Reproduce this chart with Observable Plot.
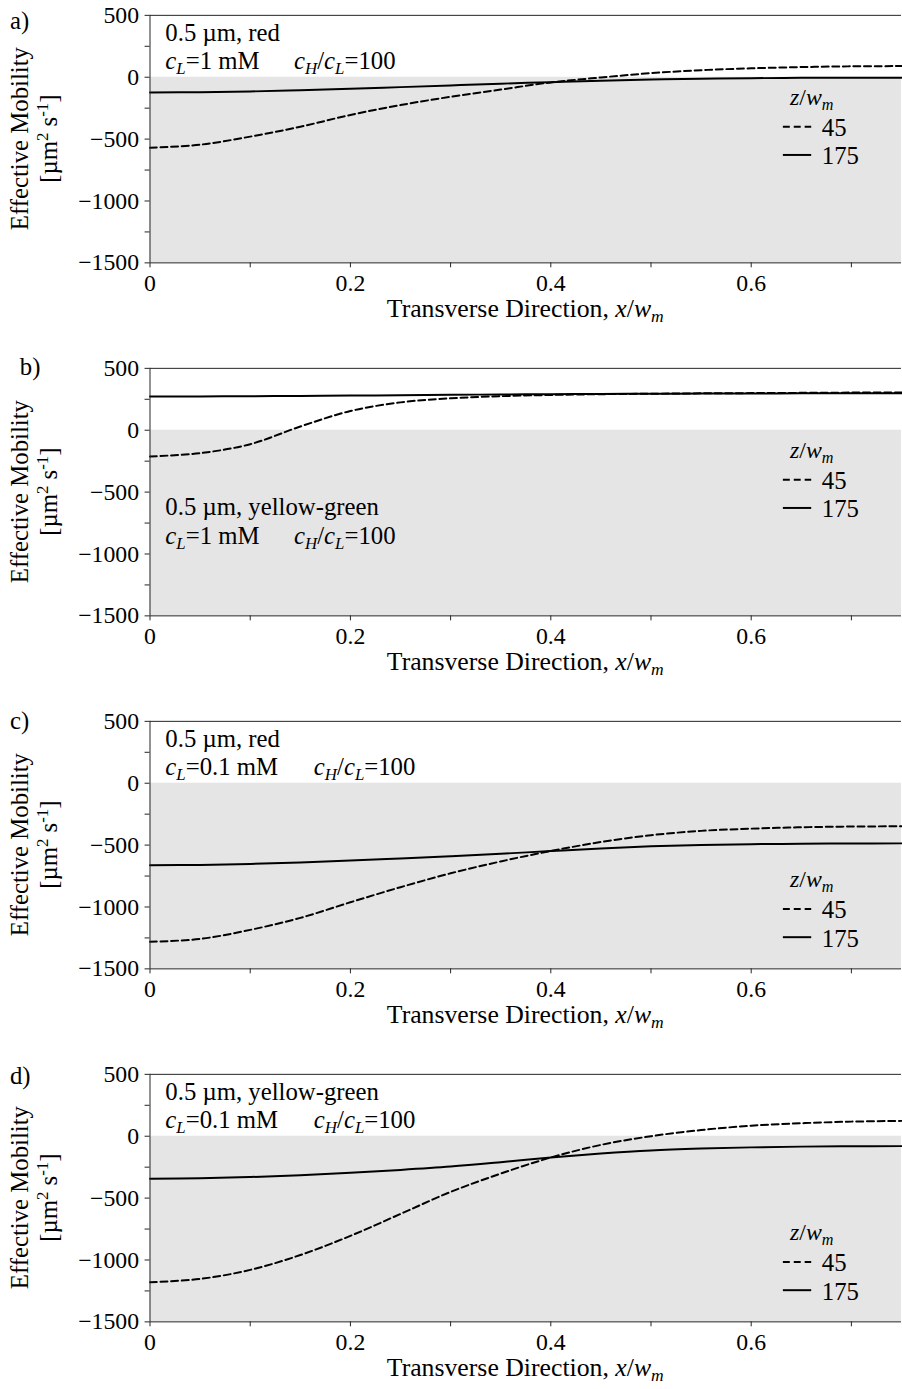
<!DOCTYPE html>
<html><head><meta charset="utf-8">
<script src="https://cdn.jsdelivr.net/npm/d3@7"></script>
<script src="https://cdn.jsdelivr.net/npm/@observablehq/plot@0.6"></script>
<style>
html,body{margin:0;padding:0;background:#fff;overflow:hidden;}
.panel{position:relative;width:902px;height:353px;overflow:hidden;}
.panel svg{display:block;}
</style></head><body><div id="root"></div>
<script>
// ---------- data ----------
const xGrid = [0, 0.05, 0.1, 0.15, 0.2, 0.25, 0.3, 0.35, 0.4, 0.45, 0.5, 0.55, 0.6, 0.65, 0.7, 0.75];
const seriesNames = ["45", "175"];            // z/w_m
const panelLetters = ["a)", "b)", "c)", "d)"];
const particles = ["0.5 µm, red", "0.5 µm, yellow-green", "0.5 µm, red", "0.5 µm, yellow-green"];
const cLvalues = ["1", "1", "0.1", "0.1"];
const ratioValue = "100";

const a45  = [-570, -545, -480, -400, -305, -225, -158, -100, -42, -2, 33, 57, 72, 82, 88, 90];
const a175 = [-123, -121, -115, -105, -93, -80, -66, -52, -40, -28, -19, -12, -8, -5, -4, -4];
const b45  = [-212, -185, -113, 30, 155, 225, 258, 275, 285, 291, 295, 298, 300, 302, 304, 305];
const b175 = [272, 273, 275, 277, 280, 283, 286, 289, 291, 293, 295, 296, 297, 298, 298, 298];
const c45  = [-1281, -1258, -1185, -1088, -962, -840, -728, -632, -548, -475, -420, -385, -367, -356, -350, -348];
const c175 = [-662, -660, -652, -640, -625, -608, -590, -570, -548, -527, -510, -500, -493, -489, -487, -486];
const d45  = [-1180, -1153, -1080, -960, -805, -628, -450, -302, -172, -70, 0, 50, 85, 105, 118, 124];
const d175 = [-343, -340, -330, -315, -295, -272, -245, -210, -172, -140, -115, -100, -90, -84, -81, -80];

const dashedSeries = [a45, b45, c45, d45];
const solidSeries  = [a175, b175, c175, d175];

const yMajor = [-1500, -1000, -500, 0, 500];
const yMinor = [-1250, -750, -250, 250];
const xMajor = [0, 0.2, 0.4, 0.6];
const xMinor = [0.1, 0.3, 0.5, 0.7];
const xDomain = [0, 0.75];
const yDomain = [-1500, 500];

// ---------- layout (pixels, relative to each panel) ----------
const FONT = "'Liberation Serif', 'Times New Roman', serif";
const FS = 25;
const TFS = 24;
const DASH = "7,3.7";
const layout = [
  {lx: 10, ly: 29, t1: 41.5, t2: 70, x2: 297, leg: 0},
  {lx: 20, ly: 22, t1: 164, t2: 193, x2: 297, leg: 0},
  {lx: 10, ly: 23, t1: 41, t2: 70, x2: 317, leg: 77},
  {lx: 10, ly: 25, t1: 41, t2: 70, x2: 317, leg: 77}
];

function rich(g, x, y, parts, anchor, size) {
  const fs = size || FS;
  const t = g.append("text").attr("x", x).attr("y", y)
    .attr("font-family", FONT).attr("font-size", fs).attr("fill", "#000")
    .attr("text-anchor", anchor || "start");
  let shift = 0;
  for (const [s, st] of parts) {
    const sp = t.append("tspan").text(s);
    let target = 0;
    if (st.includes("sub")) target = 5;
    if (st.includes("sup")) target = -10;
    if (target !== shift) { sp.attr("dy", target - shift); shift = target; }
    if (st.includes("i")) sp.attr("font-style", "italic");
    if (st.includes("sub") || st.includes("sup")) sp.attr("font-size", fs * 0.68);
  }
  return t;
}

const root = document.getElementById("root");
for (let k = 0; k < 4; k++) {
  const rows = xGrid.flatMap((x, i) => [
    {x, y: dashedSeries[k][i], z: seriesNames[0]},
    {x, y: solidSeries[k][i], z: seriesNames[1]}
  ]);
  const shade = [{x1: xDomain[0], x2: xDomain[1], y1: yDomain[0], y2: 0}];
  const fmtY = d => d < 0 ? "\u2212" + (-d) : String(d);
  const fmtX = d => d === 0 ? "0" : d.toFixed(1);
  const svg = Plot.plot({
    width: 911, height: 353,
    marginLeft: 151, marginRight: 1, marginTop: 15, marginBottom: 88,
    style: {fontFamily: FONT, fontSize: TFS + "px", color: "#000", background: "transparent"},
    x: {domain: xDomain},
    y: {domain: yDomain},
    marks: [
      Plot.rect(shade, {x1: "x1", x2: "x2", y1: "y1", y2: "y2", fill: "#e5e5e5"}),
      Plot.line(rows.filter(r => r.z === seriesNames[1]), {x: "x", y: "y", stroke: "#000", strokeWidth: 2, curve: "catmull-rom"}),
      Plot.line(rows.filter(r => r.z === seriesNames[0]), {x: "x", y: "y", stroke: "#000", strokeWidth: 2, strokeDasharray: DASH, curve: "catmull-rom"}),
      Plot.ruleY([yDomain[0], yDomain[1]], {stroke: "#222", strokeWidth: 1}),
      Plot.ruleX([xDomain[0]], {stroke: "#222", strokeWidth: 1}),
      Plot.axisY(yMajor, {tickSize: 5, tickPadding: 6, tickFormat: fmtY, label: null, fontSize: TFS, stroke: "#222"}),
      Plot.axisY(yMinor, {tickSize: 5, tickFormat: () => "", label: null, stroke: "#222"}),
      Plot.axisX(xMajor, {tickSize: 5, tickPadding: 6, tickFormat: fmtX, label: null, fontSize: TFS, stroke: "#222"}),
      Plot.axisX(xMinor, {tickSize: 5, tickFormat: () => "", label: null, stroke: "#222"})
    ]
  });
  const L = layout[k];
  const g = d3.select(svg).append("g");
  // panel letter
  rich(g, L.lx, L.ly, [[panelLetters[k], ""]]);
  // annotations
  rich(g, 167, L.t1, [[particles[k], ""]]);
  rich(g, 167, L.t2, [["c", "i"], ["L", "isub"], ["=" + cLvalues[k] + " mM", ""]]);
  rich(g, L.x2, L.t2, [["c", "i"], ["H", "isub"], ["/", ""], ["c", "i"], ["L", "isub"], ["=" + ratioValue, ""]]);
  // x axis title
  rich(g, 530.5, 320, [["Transverse Direction, ", ""], ["x", "i"], ["/", ""], ["w", "i"], ["m", "isub"]], "middle", 26);
  // y axis title
  const yt1 = rich(g, 0, 0, [["Effective Mobility", ""]], "middle");
  yt1.attr("transform", "translate(28,140) rotate(-90)");
  const yt2 = rich(g, 0, 0, [["[µm", ""], ["2", "sup"], [" s", ""], ["-1", "sup"], ["]", ""]], "middle");
  yt2.attr("transform", "translate(58,140) rotate(-90)");
  // legend
  const o = L.leg;
  rich(g, 798, 106 + o, [["z", "i"], ["/", ""], ["w", "i"], ["m", "isub"]], "start", 24);
  g.append("line").attr("x1", 790.7).attr("x2", 819.3).attr("y1", 128 + o).attr("y2", 128 + o)
    .attr("stroke", "#000").attr("stroke-width", 2).attr("stroke-dasharray", "7,4");
  g.append("line").attr("x1", 790.7).attr("x2", 819.3).attr("y1", 156.5 + o).attr("y2", 156.5 + o)
    .attr("stroke", "#000").attr("stroke-width", 2);
  rich(g, 830, 137 + o, [[seriesNames[0], ""]]);
  rich(g, 830, 166 + o, [[seriesNames[1], ""]]);

  const div = document.createElement("div");
  div.className = "panel";
  div.appendChild(svg);
  root.appendChild(div);
}
</script></body></html>
